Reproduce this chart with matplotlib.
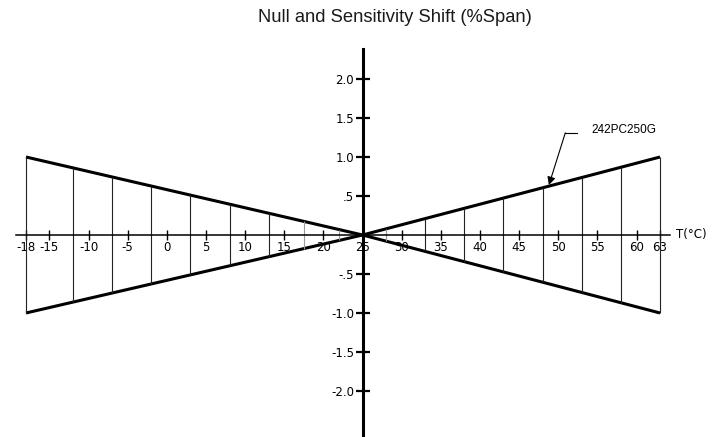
import matplotlib.pyplot as plt
import numpy as np

# envelope of the shift band (deg C, % span)
env_temp = [-18, 25, 63]
env_upper = [1.0, 0.0, 1.0]
env_lower = [-1.0, 0.0, -1.0]

# vertical hatch lines inside the band
hatch_temp = [-18, -12, -7, -2, 3, 8, 13, 17.5, 22, 28, 33, 38, 43, 48, 53, 58, 63]
hatch_faint = [17.5, 22, 28]

x_ticks = [-18, -15, -10, -5, 0, 5, 10, 15, 20, 25, 30, 35, 40, 45, 50, 55, 60, 63]
y_ticks = [-2.0, -1.5, -1.0, -0.5, 0.5, 1.0, 1.5, 2.0]
y_tick_labels = ["-2.0", "-1.5", "-1.0", "-.5", ".5", "1.0", "1.5", "2.0"]

model_label = "242PC250G"
title = "Null and Sensitivity Shift (%Span)"


def main() -> None:
    fig = plt.figure(figsize=(7.12, 4.37), dpi=100)
    ax = fig.add_axes([0, 0, 1, 1])
    ax.set_xlim(-21.32, 69.64)
    ax.set_ylim(-2.59, 3.013)
    ax.patch.set_alpha(0)

    # band outline
    ax.plot(env_temp, env_upper, color="black", lw=2.2, solid_capstyle="butt")
    ax.plot(env_temp, env_lower, color="black", lw=2.2, solid_capstyle="butt")

    top = np.interp(hatch_temp, env_temp, env_upper)
    bot = np.interp(hatch_temp, env_temp, env_lower)
    for t, y0, y1 in zip(hatch_temp, bot, top):
        c = "#9a9a9a" if t in hatch_faint else "#222222"
        ax.vlines(t, y0, y1, color=c, lw=0.8)

    # axes through the origin at (25, 0)
    for side in ["top", "right"]:
        ax.spines[side].set_visible(False)
    ax.spines["left"].set_position(("data", 25))
    ax.spines["bottom"].set_position(("data", 0))
    ax.spines["left"].set_linewidth(2.2)
    ax.spines["bottom"].set_linewidth(1.1)
    ax.spines["left"].set_bounds(-2.6, 2.385)
    ax.spines["bottom"].set_bounds(-19.3, 64.3)

    tick_font = {"family": "DejaVu Sans", "size": 8.5}
    ax.set_xticks(x_ticks)
    ax.set_xticklabels([str(v) for v in x_ticks], fontdict=tick_font)
    ax.tick_params(axis="x", direction="inout", length=7, width=1.0, pad=1)
    ax.set_yticks(y_ticks)
    ax.set_yticklabels(y_tick_labels, fontdict=tick_font)
    ax.tick_params(axis="y", direction="inout", length=10, width=1.6, pad=1)

    ax.text(65.0, 0, "T(°C)", ha="left", va="center", fontsize=8.5, family="DejaVu Sans")

    # model label with leader arrow
    ax.annotate("", xy=(48.8, 0.64), xytext=(50.9, 1.31),
                arrowprops=dict(arrowstyle="-|>", color="black", lw=0.8,
                                mutation_scale=12, shrinkA=0, shrinkB=0))
    ax.plot([50.9, 52.4], [1.31, 1.31], color="black", lw=0.8)
    ax.text(54.3, 1.35, model_label, ha="left", va="center", fontsize=8.5, family="Liberation Sans")

    fig.text(0.555, 1 - 17 / 437, title, ha="center", va="center", fontsize=13.2,
             family="Liberation Sans", color="#1a1a1a")

    fig.savefig("out.png", dpi=100)
    plt.close(fig)


if __name__ == "__main__":
    main()
